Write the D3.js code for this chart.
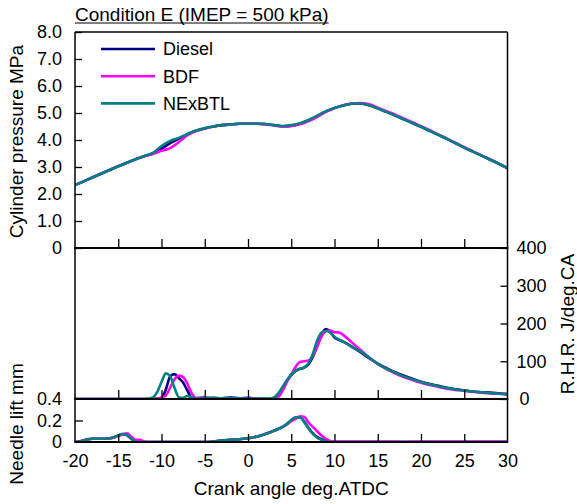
<!DOCTYPE html>
<html>
<head>
<meta charset="utf-8">
<script src="https://cdn.jsdelivr.net/npm/d3@7"></script>
<style>
html,body{margin:0;padding:0;background:#fff;}
svg{display:block;font-family:"Liberation Sans",Arial,sans-serif;}
</style>
</head>
<body>
<svg id="chart" width="577" height="504"></svg>
<script>
// ---------------- DATA ----------------
const seriesNames = ["Diesel", "BDF", "NExBTL"];
const seriesColors = ["#000080", "#ff00ff", "#008080"];

const xTicks = [-20, -15, -10, -5, 0, 5, 10, 15, 20, 25, 30];
const pressureTicks = [0, 1, 2, 3, 4, 5, 6, 7, 8];
const pressureTickLabels = ["0", "1.0", "2.0", "3.0", "4.0", "5.0", "6.0", "7.0", "8.0"];
const rhrTicks = [0, 100, 200, 300, 400];
const needleTicks = [0, 0.2, 0.4];
const needleTickLabels = ["0", "0.2", "0.4"];

// Cylinder pressure (MPa)
const pressureAngle = [-20,-18,-16,-15,-14,-12,-11,-10,-9,-8,-7,-6,-5,-4,-3,-2,-1,0,1,2,3,4,5,6,7,8,9,10,11,12,13,14,15,16,17,18,19,20,21,22,23,24,25,26,27,28,29,30];
const pressureDiesel = [2.33,2.61,2.89,3.03,3.16,3.40,3.50,3.68,3.88,4.05,4.22,4.34,4.43,4.50,4.55,4.58,4.60,4.60,4.60,4.59,4.55,4.51,4.53,4.60,4.72,4.88,5.05,5.18,5.28,5.34,5.35,5.29,5.17,5.04,4.91,4.77,4.63,4.49,4.34,4.19,4.04,3.88,3.72,3.57,3.42,3.27,3.12,2.96];
const pressureBDF    = [2.33,2.61,2.89,3.03,3.16,3.40,3.48,3.60,3.70,3.92,4.18,4.33,4.43,4.50,4.55,4.58,4.60,4.60,4.60,4.58,4.54,4.50,4.51,4.58,4.70,4.86,5.04,5.18,5.29,5.35,5.37,5.32,5.20,5.07,4.94,4.80,4.66,4.51,4.36,4.21,4.05,3.89,3.73,3.58,3.43,3.28,3.12,2.96];
const pressureNEx    = [2.33,2.61,2.89,3.03,3.16,3.41,3.52,3.78,3.97,4.08,4.22,4.35,4.44,4.50,4.55,4.58,4.60,4.60,4.60,4.59,4.55,4.52,4.55,4.62,4.74,4.90,5.07,5.19,5.28,5.34,5.35,5.29,5.17,5.04,4.91,4.77,4.63,4.49,4.34,4.19,4.04,3.88,3.72,3.57,3.42,3.27,3.12,2.96];

// Rate of heat release (J/deg.CA)
const rhrAngle = [-20,-12,-11.5,-11,-10.5,-10,-9.5,-9,-8.5,-8,-7.5,-7,-6.5,-6,-5,-4,-3,-2,-1,0,1,2,2.5,3,3.5,4,4.5,5,5.5,6,6.5,7,7.5,8,8.5,9,9.5,10,10.5,11,11.5,12,13,14,15,16,17,18,19,20,21,22,23,24,25,26,27,28,29,30];
const rhrDiesel = [0,0,0,0,1,3,25,60,66,55,44,22,3,2,2,3,2,4,2,3,1,0,0,2,12,30,48,63,74,80,83,92,112,140,170,185,178,163,157,152,146,139,124,108,94,82,71,62,54,46,40,35,30,26,23,20,18,17,15,13];
const rhrBDF    = [0,0,0,0,1,4,9,30,52,62,58,40,15,3,5,2,2,1,2,1,2,0,0,0,5,22,45,65,85,98,100,102,115,140,165,180,181,177,176,170,160,150,130,110,93,80,68,58,50,43,37,32,27,24,22,19,17,15,14,13];
const rhrNEx    = [0,0,1,4,18,45,68,60,30,5,3,8,4,2,3,2,2,2,2,1,1,1,1,4,15,32,50,65,75,80,84,95,120,155,176,180,176,165,158,152,145,138,126,110,93,80,70,60,52,45,39,34,29,25,22,20,18,16,14,13];

// Needle lift (mm)
const needleAngle = [-20,-19.5,-19,-18.5,-18,-17,-16,-15.5,-15,-14.5,-14,-13.5,-13,-12.5,-12,-11,-5,-4,-3,-2,-1,0,1,2,3,4,4.5,5,5.5,6,6.5,7,7.5,8,8.5,9,9.5,10,12,14,16,18,20,22,24,26,28,30];
const needleDiesel = [0,0.005,0.015,0.025,0.03,0.03,0.035,0.045,0.06,0.075,0.065,0.03,0.005,0,0,0,0,0.005,0.015,0.02,0.025,0.035,0.05,0.075,0.105,0.14,0.165,0.2,0.225,0.23,0.19,0.13,0.08,0.045,0.025,0.01,0,0,0,0,0,0,0,0,0,0,0,0];
const needleBDF    = [0,0.005,0.015,0.025,0.03,0.03,0.035,0.04,0.055,0.07,0.08,0.05,0.02,0.02,0.005,0,0,0.005,0.015,0.02,0.025,0.035,0.05,0.075,0.105,0.14,0.165,0.195,0.215,0.24,0.235,0.18,0.14,0.1,0.06,0.03,0.01,0.004,0.004,0.004,0.004,0.003,0.004,0.004,0.004,0.004,0.004,0.004];
const needleNEx    = [0,0.005,0.015,0.025,0.03,0.03,0.035,0.045,0.06,0.075,0.065,0.03,0.005,0,0,0,0,0.005,0.015,0.02,0.025,0.035,0.05,0.075,0.105,0.14,0.17,0.205,0.23,0.23,0.185,0.125,0.075,0.04,0.02,0.008,0,0,0,0,0,0,0,0,0,0,0,0];

// ---------------- LAYOUT ----------------
const svg = d3.select("#chart");
const left = 75, right = 507.5;
const pTop = 32, pBot = 248, rBot = 399, nBot = 442;
const fontTick = 18, fontTitle = 19;

const x = d3.scaleLinear().domain([-20, 30]).range([left, right]);
const yP = d3.scaleLinear().domain([0, 8]).range([pBot, pTop]);
const yR = d3.scaleLinear().domain([0, 400]).range([rBot, pBot]);
const yN = d3.scaleLinear().domain([0, 0.4]).range([nBot, rBot]);

const defs = svg.append("defs");
function clip(id, y0, y1) {
  defs.append("clipPath").attr("id", id).append("rect")
    .attr("x", left).attr("y", y0).attr("width", right - left).attr("height", y1 - y0);
}
clip("cp", pTop, pBot); clip("cr", pBot, rBot); clip("cn", rBot, nBot);

function drawPanel(angles, seriesArr, yScale, clipId) {
  const g = svg.append("g").attr("clip-path", `url(#${clipId})`);
  seriesArr.forEach((vals, i) => {
    const line = d3.line().x((d, j) => x(angles[j])).y(d => yScale(d)).curve(d3.curveMonotoneX);
    g.append("path").datum(vals).attr("d", line)
      .attr("fill", "none").attr("stroke", seriesColors[i])
      .attr("stroke-width", 2.6).attr("stroke-linejoin", "round");
  });
}
drawPanel(pressureAngle, [pressureDiesel, pressureBDF, pressureNEx], yP, "cp");
drawPanel(rhrAngle, [rhrDiesel, rhrBDF, rhrNEx], yR, "cr");
drawPanel(needleAngle, [needleDiesel, needleBDF, needleNEx], yN, "cn");

// ---------------- AXES ----------------
function styleAxis(g) {
  g.selectAll("text").attr("font-size", fontTick).attr("fill", "#000")
    .attr("font-family", '"Liberation Sans",Arial,sans-serif');
  g.selectAll("line").attr("stroke", "#000").attr("stroke-width", 1.3);
}
// pressure left
svg.append("g").attr("transform", `translate(${left},0)`)
  .call(d3.axisLeft(yP).tickValues(pressureTicks).tickFormat((d, i) => pressureTickLabels[i]).tickSize(-7).tickPadding(13))
  .call(g => g.select(".domain").remove()).call(styleAxis);
// rhr right
svg.append("g").attr("transform", `translate(${right},0)`)
  .call(d3.axisRight(yR).tickValues(rhrTicks).tickFormat(d => d).tickSize(-7).tickPadding(9))
  .call(g => g.select(".domain").remove()).call(styleAxis)
  .call(g => g.selectAll(".tick").filter(d => d === 0).select("text").attr("dx", 3));
// needle left
svg.append("g").attr("transform", `translate(${left},0)`)
  .call(d3.axisLeft(yN).tickValues(needleTicks).tickFormat((d, i) => needleTickLabels[i]).tickSize(-8).tickPadding(13))
  .call(g => g.select(".domain").remove()).call(styleAxis)
  .call(g => g.selectAll(".tick").filter(d => d !== 0.2).select("line").remove());
// x ticks on panel separators
[pBot, rBot].forEach(yy => {
  svg.append("g").attr("transform", `translate(0,${yy})`)
    .call(d3.axisBottom(x).tickValues(xTicks.slice(1, -1)).tickFormat("").tickSize(-9))
    .call(g => g.select(".domain").remove()).call(styleAxis);
});
// bottom x axis
svg.append("g").attr("transform", `translate(0,${nBot})`)
  .call(d3.axisBottom(x).tickValues(xTicks).tickFormat(d => d).tickSize(-8).tickPadding(12))
  .call(g => g.select(".domain").remove()).call(styleAxis)
  .call(g => g.selectAll(".tick").filter(d => d === -20 || d === 30).select("line").remove());

// frame lines
const frame = svg.append("g").attr("stroke", "#000").attr("fill", "none");
frame.append("line").attr("x1", left).attr("x2", right).attr("y1", pTop).attr("y2", pTop).attr("stroke-width", 1.3);
frame.append("line").attr("x1", left).attr("x2", left).attr("y1", pTop).attr("y2", nBot).attr("stroke-width", 1.5);
frame.append("line").attr("x1", right).attr("x2", right).attr("y1", pTop).attr("y2", nBot).attr("stroke-width", 1.5);
[pBot, rBot, nBot].forEach(yy => {
  frame.append("line").attr("x1", left - 0.75).attr("x2", right + 0.75).attr("y1", yy).attr("y2", yy).attr("stroke-width", 2);
});

// ---------------- LEGEND ----------------
const legend = svg.append("g");
seriesNames.forEach((name, i) => {
  const ly = 49 + i * 27.2;
  legend.append("line").attr("x1", 101).attr("x2", 155).attr("y1", ly).attr("y2", ly)
    .attr("stroke", seriesColors[i]).attr("stroke-width", 2.6);
  legend.append("text").attr("x", 163).attr("y", ly).attr("dy", "0.35em")
    .attr("font-size", fontTick).text(name);
});

// ---------------- TITLES ----------------
const title = svg.append("text").attr("x", 75).attr("y", 20.5)
  .attr("font-size", fontTitle).text("Condition E (IMEP = 500 kPa)");
const tw = title.node().getComputedTextLength();
svg.append("line").attr("x1", 75).attr("x2", 75 + tw).attr("y1", 23).attr("y2", 23)
  .attr("stroke", "#000").attr("stroke-width", 1.2);

svg.append("text").attr("x", (left + right) / 2).attr("y", 488).attr("dy", "0.35em")
  .attr("text-anchor", "middle").attr("font-size", fontTitle).text("Crank angle deg.ATDC");

svg.append("text").attr("transform", "translate(23,141.5) rotate(-90)")
  .attr("text-anchor", "middle").attr("font-size", fontTitle).text("Cylinder pressure MPa");
svg.append("text").attr("transform", "translate(23,424) rotate(-90)")
  .attr("text-anchor", "middle").attr("font-size", fontTitle).text("Needle lift mm");
svg.append("text").attr("transform", "translate(574,324) rotate(-90)")
  .attr("text-anchor", "middle").attr("font-size", fontTitle).text("R.H.R. J/deg.CA");
</script>
</body>
</html>
